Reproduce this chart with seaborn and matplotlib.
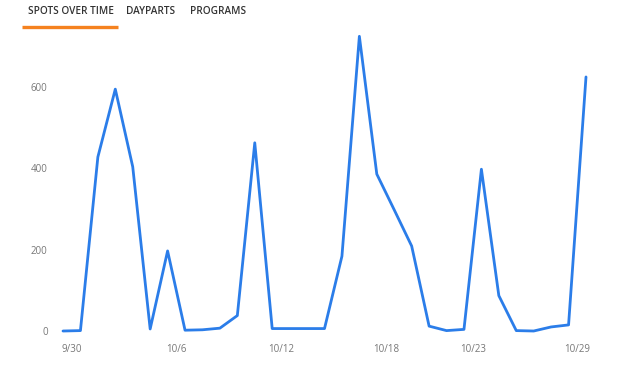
import matplotlib.pyplot as plt
import matplotlib.transforms as mtransforms
import pandas as pd
import seaborn as sns

sns.set_style('white')
plt.rcParams['font.family'] = ['Open Sans', 'DejaVu Sans']

dates = pd.date_range('2019-09-30', '2019-10-30', freq='D')
spots = [0, 1, 428, 595, 404, 5, 197, 2, 3, 7, 38, 463, 6, 6, 6, 6,
         184, 725, 386, 298, 209, 12, 1, 4, 398, 87, 1, 0, 10, 15, 625]
tick_dates = pd.to_datetime(['2019-09-30', '2019-10-06', '2019-10-12',
                             '2019-10-18', '2019-10-23', '2019-10-29'])
tick_labels = ['9/30', '10/6', '10/12', '10/18', '10/23', '10/29']
tabs = ['SPOTS OVER TIME', 'DAYPARTS', 'PROGRAMS']
tab_x = [28, 126, 190]

df = pd.DataFrame({'date': dates, 'spots': spots})

fig = plt.figure(figsize=(6.24, 3.72), dpi=100)
ax = fig.add_axes([63 / 624, 0.0938, 523 / 624, 0.825])
sns.lineplot(data=df, x='date', y='spots', ax=ax, color='#2b7de9',
             linewidth=2.0, clip_on=False)

ax.set_xlim(dates[0], dates[-1])
ax.set_ylim(-15, 740)
ax.set_yticks([0, 200, 400, 600])
ax.set_xticks(tick_dates)
ax.set_xticklabels(tick_labels)
ax.tick_params(axis='both', length=0, labelsize=7, labelcolor='#777777')
ax.tick_params(axis='y', pad=11)
ax.tick_params(axis='x', pad=5)
offset = mtransforms.ScaledTranslation(9 / 100, 0, fig.dpi_scale_trans)
for label in ax.get_xticklabels():
    label.set_transform(label.get_transform() + offset)
ax.set_xlabel('')
ax.set_ylabel('')
sns.despine(ax=ax, left=True, bottom=True)

for name, x in zip(tabs, tab_x):
    fig.text(x / 624, 1 - 12 / 372, name, ha='left', va='center',
             fontsize=7.2, fontweight='semibold', color='#333333')
fig.add_artist(plt.Line2D([22 / 624, 118 / 624], [1 - 27 / 372, 1 - 27 / 372],
                          color='#f5821f', linewidth=2.4,
                          solid_capstyle='butt', transform=fig.transFigure))

fig.savefig('out.png', dpi=100)
